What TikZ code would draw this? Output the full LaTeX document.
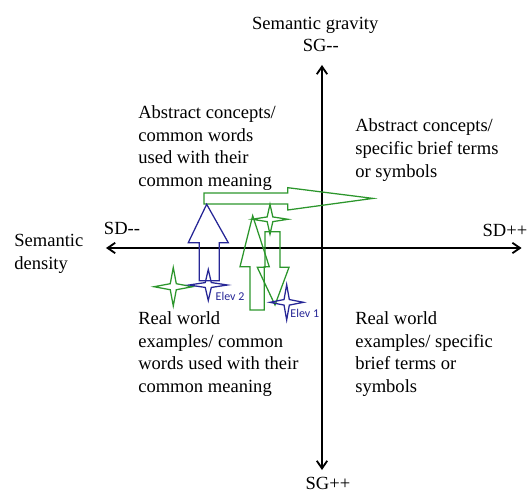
\documentclass[tikz,border=0pt]{standalone}
\usepackage{fontspec}
\setmainfont{Liberation Serif}
\newfontfamily\elevfont{Carlito}
\usepackage{xcolor}
\usepackage{tikz}
\usetikzlibrary{shapes,arrows,arrows.meta,positioning}
\definecolor{elevgreen}{RGB}{44,150,44}
\definecolor{elevblue}{RGB}{38,38,150}

\begin{document}
\begin{tikzpicture}
  % Styles for the plane and the elevations
  \tikzstyle{quadrant} = [inner sep=0pt, align=left, anchor=west, font=\fontsize{13.2}{16.1}\selectfont]
  \tikzstyle{axislabel} = [inner sep=0pt, font=\fontsize{13.2}{16.1}\selectfont]
  \tikzstyle{axisline} = [line width=1.3pt, {Straight Barb[length=1.9mm,width=2.6mm]}-{Straight Barb[length=1.9mm,width=2.6mm]}]
  \tikzstyle{greenblock} = [draw=elevgreen, line width=0.9pt, line join=miter]
  \tikzstyle{blueblock} = [draw=elevblue, line width=0.9pt, line join=miter]
  \tikzstyle{greenstar} = [star, star points=4, star point ratio=4.5, draw=elevgreen, line width=0.9pt, inner sep=0pt]
  \tikzstyle{bluestar} = [star, star points=4, star point ratio=4.5, draw=elevblue, line width=0.9pt, inner sep=0pt]
  \tikzstyle{elevlabel} = [inner sep=0pt, text=elevblue, font=\elevfont\fontsize{8.5}{10}\selectfont]

  \useasboundingbox (-8.05,-6.1) rectangle (5.175,6.2);

  % Axes
  \coordinate (sgtop) at (0,4.575);
  \coordinate (sgbottom) at (0,-5.55);
  \coordinate (sdleft) at (-5.4,0);
  \coordinate (sdright) at (4.99,0);
  \draw[axisline] (sgbottom) -- (sgtop);
  \draw[axisline] (sdleft) -- (sdright);

  % Axis labels
  \node[axislabel] (sgtitle) at (-0.17,5.575) {Semantic gravity};
  \node[axislabel] (sgminus) at (-0.03,5.075) {SG-{}-};
  \node[axislabel] (sgplus) at (0.15,-5.875) {SG++};
  \node[axislabel] (sdminus) at (-5.0,0.5) {SD-{}-};
  \node[axislabel] (sdplus) at (4.575,0.45) {SD++};
  \node[quadrant] (sdtitle) at (-7.7,-0.15) {Semantic\\density};

  % Quadrant texts
  \node[quadrant] (topleft) at (-4.6,2.5) {Abstract concepts/\\common words\\used with their\\common meaning};
  \node[quadrant] (topright) at (0.825,2.45) {Abstract concepts/\\specific brief terms\\or symbols};
  \node[quadrant] (bottomleft) at (-4.6,-2.65) {Real world\\examples/ common\\words used with their\\common meaning};
  \node[quadrant] (bottomright) at (0.825,-2.65) {Real world\\examples/ specific\\brief terms or\\symbols};

  % Elevation arrows
  \draw[greenblock] (-2.95,1.1) -- (-2.95,1.375) -- (-0.858,1.375) -- (-0.858,1.508) -- (1.275,1.24) -- (-0.858,0.95) -- (-0.858,1.1) -- cycle;
  \draw[blueblock] (-3.068,-0.818) -- (-3.068,0.133) -- (-3.343,0.133) -- (-2.883,1.093) -- (-2.343,0.133) -- (-2.568,0.133) -- (-2.568,-0.818) -- cycle;
  \draw[greenblock] (-1.8,-1.55) -- (-1.8,-0.468) -- (-2.05,-0.468) -- (-1.733,0.808) -- (-1.318,-0.468) -- (-1.443,-0.468) -- (-1.443,-1.55) -- cycle;
  \draw[greenblock] (-1.425,0.408) -- (-1.05,0.408) -- (-1.05,-0.483) -- (-0.825,-0.483) -- (-1.175,-1.425) -- (-1.618,-0.483) -- (-1.425,-0.483) -- cycle;

  % Stars
  \node[greenstar, minimum size=0.96cm] (greenlow) at (-3.718,-0.968) {};
  \node[greenstar, minimum size=0.9cm, yscale=0.83] (greenhigh) at (-1.3,0.718) {};
  \node[bluestar, minimum size=0.96cm, yscale=0.81] (elevtwo) at (-2.843,-0.925) {};
  \node[bluestar, minimum size=0.84cm, yscale=1.05] (elevone) at (-0.883,-1.358) {};
  \node[elevlabel] (elevtwolabel) at (-2.3,-1.2) {Elev 2};
  \node[elevlabel] (elevonelabel) at (-0.43,-1.633) {Elev 1};

\end{tikzpicture}
\end{document}
